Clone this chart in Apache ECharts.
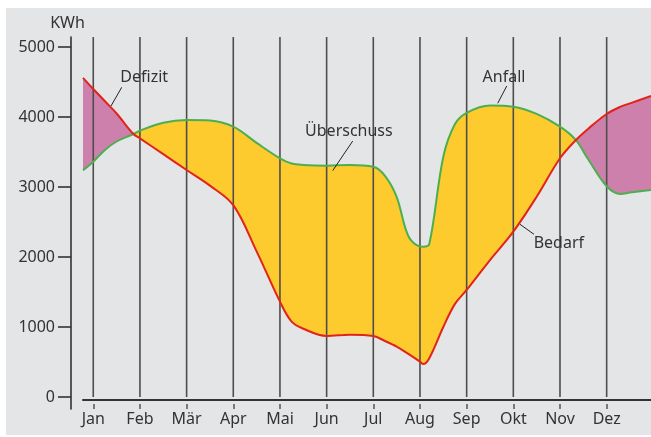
<!DOCTYPE html>
<html><head><meta charset="utf-8">
<script src="https://cdn.jsdelivr.net/npm/echarts@6/dist/echarts.min.js"></script>
<style>
html,body{margin:0;padding:0;background:#fff;width:651px;height:437px;overflow:hidden}
#chart{position:absolute;left:6px;top:8px;width:645px;height:427px;background:#e4e5e7}
</style>
</head><body><div id="chart"></div>
<script>
// ---- data ----
const months = ['Jan','Feb','Mär','Apr','Mai','Jun','Jul','Aug','Sep','Okt','Nov','Dez'];
const monthIndex = [0,1,2,3,4,5,6,7,8,9,10,11];
const yTicks = [0,1000,2000,3000,4000,5000];
// sample positions (month index, Jan = 0)
const xPos   = [-0.22, 0, 0.25, 0.5, 0.86, 1, 1.5, 2, 2.5, 3, 3.5, 4, 4.25, 4.5, 5, 5.5, 6, 6.25, 6.5, 6.75, 7, 7.07, 7.2, 7.5, 7.75, 8, 8.5, 9, 9.5, 10, 10.34, 10.6, 11, 11.3, 11.5, 11.95];
const bedarf = [4560, 4400, 4225, 4050, 3757, 3695, 3470, 3243, 3020, 2740, 2080, 1362, 1076, 975, 871, 890, 871, 800, 719, 615, 505, 471, 555, 1000, 1330, 1529, 1957, 2362, 2860, 3410, 3671, 3830, 4043, 4148, 4195, 4300];
const anfall = [3240, 3362, 3530, 3650, 3757, 3805, 3919, 3957, 3950, 3862, 3630, 3410, 3335, 3315, 3305, 3314, 3290, 3160, 2860, 2300, 2150, 2148, 2186, 3433, 3900, 4060, 4165, 4148, 4045, 3862, 3671, 3400, 3010, 2900, 2920, 2957];
const crossings = [0.86, 10.34];
const annotations = [
  {name:'Defizit',    at:[1.091,4571], from:[0.609,4424], to:[0.380,4157]},
  {name:'Anfall',     at:[8.800,4571], from:[8.859,4443], to:[8.666,4196]},
  {name:'Überschuss', at:[5.477,3800], from:[5.559,3657], to:[5.130,3233]},
  {name:'Bedarf',     at:[9.975,2200], from:[9.443,2324], to:[9.143,2467]}
];
const X_MIN = -0.22, X_MAX = 11.95, Y_MIN = -171.43, Y_MAX = 5142.86;

// ---- styles ----
const F = 'Noto Sans';
const TXT = '#333';
const RED = '#e2231a', GREEN = '#4cae4f', YELLOW = '#fecb2e', PINK = '#cd80ab';
const S = 0.35;

const chart = echarts.init(document.getElementById('chart'), null, {renderer:'canvas'});
// stacked pair uses [value, x] order so that the value dimension is the stacked one
const baseData = xPos.map((x,i)=>[bedarf[i], x]);
const diffData = xPos.map((x,i)=>[anfall[i]-bedarf[i], x]);
const monthLineData = [];
monthIndex.forEach(i=>{ monthLineData.push([i,0],[i,Y_MAX],[i,'-']); });

chart.setOption({
  animation:false,
  backgroundColor:'transparent',
  textStyle:{fontFamily:F},
  grid:{left:77,right:0,top:29,bottom:26,containLabel:false,outerBoundsMode:'none'},
  visualMap:{type:'piecewise',show:false,dimension:1,seriesIndex:1,
    pieces:[{lt:crossings[0],color:PINK},{gte:crossings[0],lt:crossings[1],color:YELLOW},{gte:crossings[1],color:PINK}]},
  xAxis:[
    {type:'value',min:X_MIN,max:X_MAX,position:'bottom',offset:-9,
     axisLine:{show:true,onZero:false,lineStyle:{color:'#333',width:2}},
     axisTick:{show:false},axisLabel:{show:false},splitLine:{show:false}},
    {type:'value',min:X_MIN,max:X_MAX,position:'bottom',offset:-5,
     axisLine:{show:false,onZero:false},
     axisTick:{show:true,customValues:monthIndex,length:5,lineStyle:{color:'#555',width:1.5}},
     axisLabel:{show:true,customValues:monthIndex,formatter:v=>months[Math.round(v)],margin:7,color:TXT,fontSize:16,fontFamily:F},
     splitLine:{show:false}}
  ],
  yAxis:{type:'value',min:Y_MIN,max:Y_MAX,position:'left',offset:12,
    name:'KWh',nameLocation:'end',nameGap:14,
    nameTextStyle:{color:TXT,fontSize:16,fontFamily:F,align:'center',verticalAlign:'middle',padding:[0,7,0,0]},
    axisLine:{show:true,onZero:false,lineStyle:{color:'#333',width:1.6}},
    axisTick:{show:true,customValues:yTicks,length:13,lineStyle:{color:'#333',width:1.6}},
    axisLabel:{show:true,customValues:yTicks,formatter:v=>String(Math.round(v)),margin:16,color:TXT,fontSize:16,fontFamily:F},
    splitLine:{show:false}},
  series:[
    {type:'line',name:'base',data:baseData,encode:{x:1,y:0},stack:'gap',stackStrategy:'all',
     smooth:S,symbol:'none',lineStyle:{opacity:0,width:0},z:1,silent:true},
    {type:'line',name:'fill',data:diffData,encode:{x:1,y:0},stack:'gap',stackStrategy:'all',
     smooth:S,symbol:'none',lineStyle:{opacity:0,width:0},areaStyle:{opacity:1},z:1,silent:true},
    {type:'line',name:'months',data:monthLineData,symbol:'none',connectNulls:false,
     lineStyle:{color:'#4d4d4d',width:1.6},z:2,silent:true},
    {type:'line',name:'Anfall',data:xPos.map((x,i)=>[x,anfall[i]]),smooth:S,symbol:'none',
     lineStyle:{color:GREEN,width:2},itemStyle:{color:GREEN},z:3,silent:true},
    {type:'line',name:'Bedarf',data:xPos.map((x,i)=>[x,bedarf[i]]),smooth:S,symbol:'none',
     lineStyle:{color:RED,width:2},itemStyle:{color:RED},z:4,silent:true,
     markLine:{silent:true,symbol:['none','none'],label:{show:false},
       lineStyle:{color:'#222',width:1,type:'solid'},
       data:annotations.map(a=>[{coord:a.from},{coord:a.to}])},
     markPoint:{silent:true,symbol:'circle',symbolSize:1,itemStyle:{color:'transparent'},
       label:{show:true,position:'inside',formatter:'{b}',color:TXT,fontSize:16,fontFamily:F},
       data:annotations.map(a=>({name:a.name,coord:a.at}))}}
  ]
});
</script></body></html>
